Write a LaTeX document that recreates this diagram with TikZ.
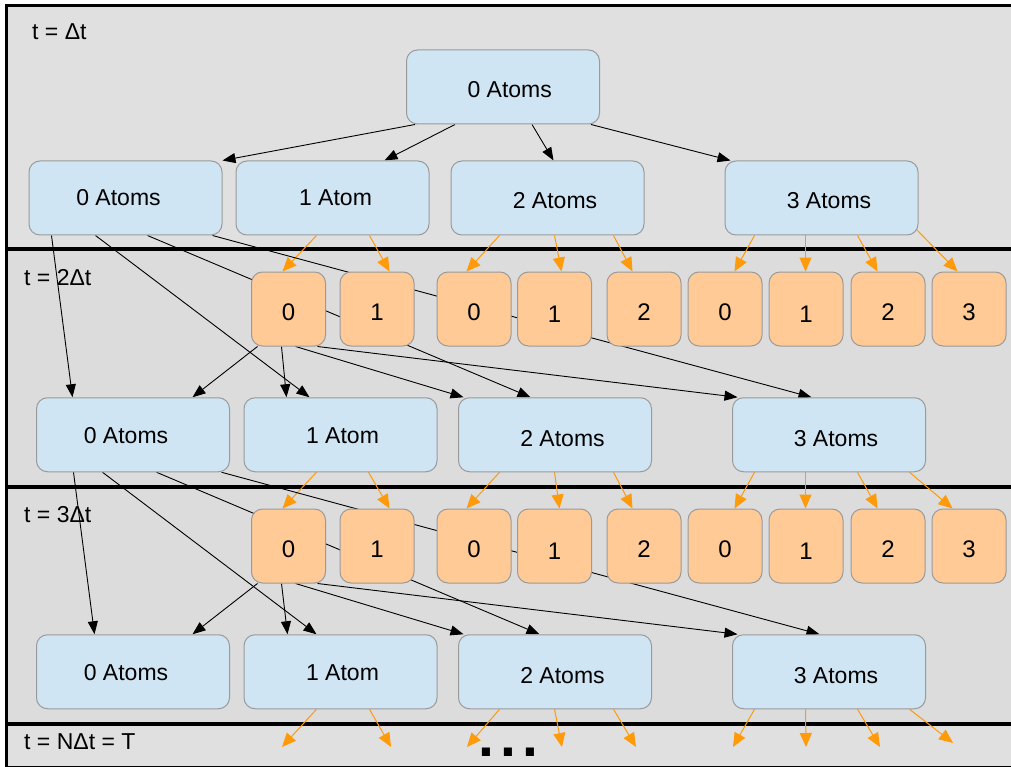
\documentclass[tikz,border=0pt]{standalone}
\usepackage{fontspec}
\setmainfont{Liberation Sans}
\usetikzlibrary{arrows.meta}

\definecolor{bandlight}{HTML}{E0E0E0}
\definecolor{banddark}{HTML}{DCDCDC}
\definecolor{stateblue}{HTML}{CFE5F3}
\definecolor{countorange}{HTML}{FFCA96}
\definecolor{boxline}{HTML}{9A9A9A}
\definecolor{flow}{HTML}{FF9A0A}

\pgfdeclarelayer{bands}
\pgfdeclarelayer{links}
\pgfsetlayers{bands,links,main}

% state box: name, centre x, centre y, text x, text baseline, text
\newcommand\statebox[6]{%
  \node[bluebox] (#1) at (#2,#3) {};
  \node[boxtext] (#1-txt) at (#4,#5) {#6};}
% count box: [extra style], name, centre x, centre y, digit
\newcommand\countbox[5][]{%
  \node[orangebox,#1] (#2) at (#3,#4) {#5};}

\begin{document}
\begin{tikzpicture}[x=1pt,y=-1pt,
  bluebox/.style={draw=boxline, fill=stateblue, line width=1pt,
    rounded corners=11pt, minimum width=193pt, minimum height=74pt,
    inner sep=0pt},
  orangebox/.style={draw=boxline, fill=countorange, line width=1pt,
    rounded corners=11pt, minimum width=74pt, minimum height=74pt,
    inner sep=0pt, font=\fontsize{24}{28}\selectfont,
    text height=23pt, text depth=0pt},
  lowdigit/.style={text height=27pt},
  boxtext/.style={inner sep=0pt, anchor=base, font=\fontsize{23}{27}\selectfont},
  bandlabel/.style={inner sep=0pt, anchor=base west, font=\fontsize{23}{27}\selectfont},
  frame/.style={draw=black, line width=3.5pt},
  blk/.style={draw=black, line width=0.9pt, -{Triangle[length=13pt,width=10pt]}},
  org/.style={draw=flow, line width=1pt, -{Triangle[length=14pt,width=12pt]}}]

\useasboundingbox (0,0) rectangle (1011,767);

% ---- time bands ----
\begin{pgfonlayer}{bands}
  \fill[white] (0,0) rectangle (1011,767);
  \draw[frame, fill=bandlight] (6.5,5.5) rectangle (1030,249);
  \draw[frame, fill=banddark]  (6.5,249) rectangle (1030,487);
  \draw[frame, fill=banddark]  (6.5,487) rectangle (1030,724);
  \draw[frame, fill=bandlight] (6.5,724) rectangle (1030,767.6);
\end{pgfonlayer}

\node[bandlabel] (lab1) at (32,40)  {t = Δt};
\node[bandlabel] (lab2) at (24,285) {t = 2Δt};
\node[bandlabel] (lab3) at (24,522) {t = 3Δt};
\node[bandlabel] (lab4) at (24,749) {t = NΔt = T};

% ---- first step ----
\statebox{root}{503}{87}{509.7}{97.5}{0 Atoms}
\statebox{r1a}{125.5}{198}{118.5}{206}{0 Atoms}
\statebox{r1b}{332.5}{198}{335.5}{206}{1 Atom}
\statebox{r1c}{547.5}{198}{555}{209}{2 Atoms}
\statebox{r1d}{821.5}{198}{829}{209}{3 Atoms}

% ---- second step ----
\countbox{o2a}{288.5}{309}{0}
\countbox{o2b}{377}{309}{1}
\countbox{o2c}{474}{309}{0}
\countbox[lowdigit]{o2d}{554.5}{309}{1}
\countbox{o2e}{644}{309}{2}
\countbox{o2f}{725}{309}{0}
\countbox[lowdigit]{o2g}{806}{309}{1}
\countbox{o2h}{888}{309}{2}
\countbox{o2i}{969}{309}{3}
\statebox{r2a}{133}{434.75}{126}{443}{0 Atoms}
\statebox{r2b}{340.5}{434.75}{342.5}{443}{1 Atom}
\statebox{r2c}{555}{434.75}{562.5}{446}{2 Atoms}
\statebox{r2d}{829}{434.75}{836}{446}{3 Atoms}

% ---- third step ----
\countbox{o3a}{288.5}{546}{0}
\countbox{o3b}{377}{546}{1}
\countbox{o3c}{474}{546}{0}
\countbox[lowdigit]{o3d}{554.5}{546}{1}
\countbox{o3e}{644}{546}{2}
\countbox{o3f}{725}{546}{0}
\countbox[lowdigit]{o3g}{806}{546}{1}
\countbox{o3h}{888}{546}{2}
\countbox{o3i}{969}{546}{3}
\statebox{r3a}{133}{671.75}{126}{680}{0 Atoms}
\statebox{r3b}{340.5}{671.75}{342.5}{680}{1 Atom}
\statebox{r3c}{555}{671.75}{562.5}{683}{2 Atoms}
\statebox{r3d}{829}{671.75}{836}{683}{3 Atoms}

% ---- open ends of the last step ----
\coordinate (e1) at (282,747);
\coordinate (e2) at (391,747);
\coordinate (e3) at (467,747);
\coordinate (e4) at (562,747);
\coordinate (e5) at (636,747);
\coordinate (e6) at (733,747);
\coordinate (e7) at (806,747);
\coordinate (e8) at (880,747);
\coordinate (e9) at (953,743);
\node[inner sep=0pt, anchor=base west, font=\fontsize{57}{57}\selectfont\bfseries]
  (dots) at (478,756) {.\kern6.1pt.\kern6.1pt.};

\begin{pgfonlayer}{links}
  % loading from the empty start
  \draw[blk] ([xshift=9pt]root.south west)   -- (r1a.north east);
  \draw[blk] ([xshift=49pt]root.south west)  -- ([xshift=149pt]r1b.north west);
  \draw[blk] ([xshift=126pt]root.south west) -- ([xshift=103pt]r1c.north west);
  \draw[blk] ([xshift=185pt]root.south west) -- ([xshift=6pt]r1d.north west);

  % losses after the first step
  \draw[org] ([xshift=81pt]r1b.south west)  -- ([xshift=31.5pt]o2a.north west);
  \draw[org] ([xshift=134pt]r1b.south west) -- ([xshift=50pt]o2b.north west);
  \draw[org] ([xshift=49pt]r1c.south west)  -- ([xshift=30pt]o2c.north west);
  \draw[org] ([xshift=104pt]r1c.south west) -- ([xshift=44.5pt]o2d.north west);
  \draw[org] ([xshift=163pt]r1c.south west) -- ([xshift=26pt]o2e.north west);
  \draw[org] ([xshift=30pt]r1d.south west)  -- ([xshift=47pt]o2f.north west);
  \draw[org] ([xshift=81pt]r1d.south west)  -- ([xshift=37pt]o2g.north west);
  \draw[org] ([xshift=133pt]r1d.south west) -- ([xshift=27pt]o2h.north west);
  \draw[org] ([xshift=-2pt,yshift=6pt]r1d.south east) -- ([xshift=26pt]o2i.north west);

  % loading into the second step
  \draw[blk] ([xshift=23pt]r1a.south west)  -- ([xshift=36.5pt]r2a.north west);
  \draw[blk] ([xshift=67pt]r1a.south west)  -- ([xshift=66pt]r2b.north west);
  \draw[blk] ([xshift=119pt]r1a.south west) -- ([xshift=72.5pt]r2c.north west);
  \draw[blk] ([xshift=184pt]r1a.south west) -- ([xshift=79.5pt]r2d.north west);
  \draw[blk] ([xshift=6.5pt]o2a.south west)  -- ([xshift=156.5pt]r2a.north west);
  \draw[blk] ([xshift=30.5pt]o2a.south west) -- ([xshift=43pt]r2b.north west);
  \draw[blk] ([xshift=44.5pt]o2a.south west) -- ([xshift=5.5pt]r2c.north west);
  \draw[blk] ([xshift=66.5pt]o2a.south west) -- ([xshift=5.5pt]r2d.north west);

  % losses after the second step
  \draw[org] ([xshift=73pt]r2b.south west)    -- ([xshift=31.5pt]o3a.north west);
  \draw[org] ([xshift=125pt]r2b.south west)   -- ([xshift=50pt]o3b.north west);
  \draw[org] ([xshift=41.5pt]r2c.south west)  -- ([xshift=30pt]o3c.north west);
  \draw[org] ([xshift=96.5pt]r2c.south west)  -- ([xshift=42.5pt]o3d.north west);
  \draw[org] ([xshift=155.5pt]r2c.south west) -- ([xshift=26pt]o3e.north west);
  \draw[org] ([xshift=22.5pt]r2d.south west)  -- ([xshift=47pt]o3f.north west);
  \draw[org] ([xshift=73.5pt]r2d.south west)  -- ([xshift=37pt]o3g.north west);
  \draw[org] ([xshift=125.5pt]r2d.south west) -- ([xshift=27pt]o3h.north west);
  \draw[org] ([xshift=177.5pt]r2d.south west) -- ([xshift=21pt]o3i.north west);

  % loading into the third step
  \draw[blk] ([xshift=37.5pt]r2a.south west)  -- ([xshift=58.5pt]r3a.north west);
  \draw[blk] ([xshift=66.5pt]r2a.south west)  -- ([xshift=73pt]r3b.north west);
  \draw[blk] ([xshift=120.5pt]r2a.south west) -- ([xshift=81.5pt]r3c.north west);
  \draw[blk] ([xshift=185.5pt]r2a.south west) -- ([xshift=87.5pt]r3d.north west);
  \draw[blk] ([xshift=6.5pt]o3a.south west)  -- ([xshift=156.5pt]r3a.north west);
  \draw[blk] ([xshift=30.5pt]o3a.south west) -- ([xshift=44pt]r3b.north west);
  \draw[blk] ([xshift=44.5pt]o3a.south west) -- ([xshift=5.5pt]r3c.north west);
  \draw[blk] ([xshift=66.5pt]o3a.south west) -- ([xshift=5.5pt]r3d.north west);

  % losses after the third step
  \draw[org] ([xshift=73pt]r3b.south west)    -- (e1);
  \draw[org] ([xshift=126pt]r3b.south west)   -- (e2);
  \draw[org] ([xshift=41.5pt]r3c.south west)  -- (e3);
  \draw[org] ([xshift=96.5pt]r3c.south west)  -- (e4);
  \draw[org] ([xshift=155.5pt]r3c.south west) -- (e5);
  \draw[org] ([xshift=22.5pt]r3d.south west)  -- (e6);
  \draw[org] ([xshift=73.5pt]r3d.south west)  -- (e7);
  \draw[org] ([xshift=125.5pt]r3d.south west) -- (e8);
  \draw[org] ([xshift=177.5pt]r3d.south west) -- (e9);
\end{pgfonlayer}
\end{tikzpicture}
\end{document}
